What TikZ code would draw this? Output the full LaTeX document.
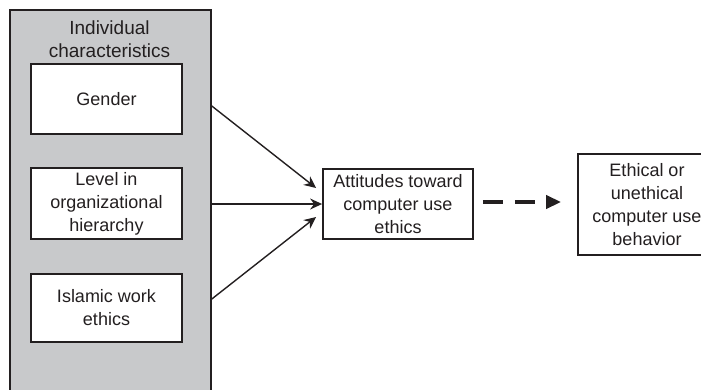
\documentclass[tikz,border=0pt]{standalone}
\usepackage{fontspec}
\setmainfont{Liberation Sans}
\usetikzlibrary{arrows.meta,calc}
\definecolor{panelgray}{RGB}{200,201,203}
\definecolor{ink}{RGB}{35,31,32}
\begin{document}
\begin{tikzpicture}[x=1pt,y=-1pt,
  every node/.style={font=\fontsize{18}{23}\selectfont, text=ink, align=center, inner sep=0pt},
  varbox/.style={draw=ink, line width=1.8pt, fill=white, rectangle},
  panel/.style={draw=ink, line width=1.8pt, fill=panelgray, rectangle},
  link/.style={draw=ink, line width=1.4pt, -{Stealth[length=12pt,width=11pt,inset=4pt]}},
  dasharrow/.style={draw=ink, line width=4.5pt, dash pattern=on 20pt off 12pt, -{Triangle[length=15pt,width=13pt]}}]
\useasboundingbox (0,0) rectangle (701,389);
% outer panel
\node[panel, anchor=north west, minimum width=201pt, minimum height=400pt] (outer) at (9,9) {};
\node[font=\fontsize{19}{23}\selectfont] (title) at (109.5,39) {Individual\\characteristics};
% inner boxes
\node[varbox, minimum width=151pt, minimum height=70pt] (gender) at (106.5,99) {Gender};
\node[varbox, minimum width=151pt, minimum height=71pt] (level) at (106.5,203.5) {Level in\\organizational\\hierarchy};
\node[varbox, minimum width=151pt, minimum height=68pt] (islamic) at (106.5,308) {Islamic work\\ethics};
% attitudes
\node[varbox, minimum width=150pt, minimum height=70pt] (att) at (398,204) {Attitudes toward\\computer use\\ethics};
% behavior
\node[varbox, minimum width=138pt, minimum height=101pt] (eth) at (647,204.5) {Ethical or\\unethical\\computer use\\behavior};
% start points on the panel edge
\coordinate (s1) at (outer.north east |- 0,106);
\coordinate (s2) at (outer.north east |- 0,204);
\coordinate (s3) at (outer.north east |- 0,299);
\coordinate (e1) at ($(att.west)+(-6,-16)$);
\coordinate (e3) at ($(att.west)+(-6,13)$);
\draw[link] (s1) -- (e1);
\draw[link] (s2) -- (att.west);
\draw[link] (s3) -- (e3);
\draw[dasharrow] ($(att.east)+(9,-2)$) -- ($(eth.west)+(-16,-2.5)$);
\end{tikzpicture}
\end{document}
